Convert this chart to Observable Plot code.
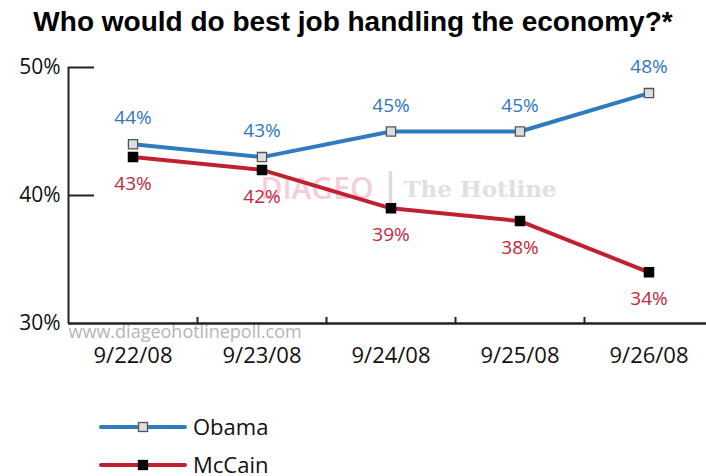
<!DOCTYPE html>
<html><head><meta charset="utf-8">
<script src="https://cdn.jsdelivr.net/npm/d3@7"></script>
<script src="https://cdn.jsdelivr.net/npm/@observablehq/plot@0.6"></script>
<style>
body{margin:0;background:#fff;width:706px;height:476px;overflow:hidden;font-family:"Open Sans",sans-serif}
#title{box-sizing:border-box;height:40px;padding-top:7px;line-height:30px;text-align:center;font-family:"Liberation Sans",Arial,sans-serif;font-weight:bold;font-size:28px;color:#000;white-space:nowrap}
#chart svg{display:block}
#legend{height:96px}
</style></head><body>
<div id="title">Who would do best job handling the economy?*</div>
<div id="chart"></div>
<div id="legend"></div>
<script>
const dates = ["9/22/08","9/23/08","9/24/08","9/25/08","9/26/08"];
const obama = [44,43,45,45,48];
const mccain = [43,42,39,38,34];
const seriesNames = ["Obama","McCain"];
const yTicks = [30,40,50];
const lineColors = {Obama:"#2e7bc0", McCain:"#c1202f"};
const labelColors = {Obama:"#2f78be", McCain:"#c4263a"};
const markFill = {Obama:"#dddde2", McCain:"#000"};
const markStroke = {Obama:"#555", McCain:"#000"};

const ob = dates.map((d,i)=>({i, date:d, series:"Obama", value:obama[i]}));
const mc = dates.map((d,i)=>({i, date:d, series:"McCain", value:mccain[i]}));
const idx = dates.map((_,i)=>i);
const mids = dates.slice(1).map((_,k)=>k+0.5);

function seriesMarks(data, name, dy){
  return [
    Plot.line(data, {x:"i", y:"value", stroke:lineColors[name], strokeWidth:4}),
    Plot.dot(data, {x:"i", y:"value", symbol:"square", r:5.2, fill:markFill[name], stroke:markStroke[name], strokeWidth:1.3}),
    Plot.text(data, {x:"i", y:"value", text:d=>d.value+"%", dy, fill:labelColors[name], fontSize:19})
  ];
}

const chart = Plot.plot({
  width:706, height:340, marginTop:27, marginBottom:57, marginLeft:68, marginRight:0,
  style:{fontFamily:"'Open Sans', sans-serif", background:"transparent", color:"#222"},
  x:{type:"linear", domain:[-0.5, dates.length-0.5], range:[68, 68+129*dates.length], axis:null, label:null},
  y:{domain:[30,50], axis:null, label:null},
  marks:[
    Plot.text(["DIAGEO"], {frameAnchor:"middle", dx:-14, dy:-6, textAnchor:"end", fontSize:30, fill:"#f4cfd9", fontWeight:"600"}),
    Plot.text(["The Hotline"], {frameAnchor:"middle", dx:16, dy:-6, textAnchor:"start", fontSize:23, fill:"#e0e0e0", fontWeight:"bold", fontFamily:"DejaVu Serif"}),
    Plot.text(["|"], {frameAnchor:"middle", dx:3, dy:-7, fontSize:40, fill:"#dcdcdc", fontFamily:"Liberation Sans"}),
    Plot.text(["www.diageohotlinepoll.com"], {frameAnchor:"bottom-left", dy:14, textAnchor:"start", fontSize:18, fill:"#b5b5b5"}),
    Plot.axisY(yTicks, {anchor:"left", label:null, tickSize:0, tickPadding:8, tickFormat:d=>d+"%", fontSize:21, fill:"#111"}),
    Plot.axisY([40,50], {anchor:"left", label:null, tickSize:-26, tickFormat:()=>"", strokeWidth:2, stroke:"#222"}),
    Plot.ruleX([-0.5], {y1:30, y2:50, strokeWidth:2, stroke:"#222"}),
    Plot.ruleY([30], {strokeWidth:2.5, stroke:"#222"}),
    Plot.axisX(idx, {anchor:"bottom", label:null, tickSize:0, tickPadding:24, tickFormat:i=>dates[i], fontSize:22, fill:"#111"}),
    Plot.axisX(mids, {anchor:"bottom", label:null, tickSize:-6, tickFormat:()=>"", strokeWidth:2, stroke:"#222"}),
    ...seriesMarks(ob, "Obama", -26),
    ...seriesMarks(mc, "McCain", 27)
  ]
});
document.getElementById("chart").appendChild(chart);

// legend
const lg = d3.select("#legend").append("svg").attr("width",706).attr("height",96);
seriesNames.forEach((name,k)=>{
  const y = 47 + k*38;
  const g = lg.append("g");
  g.append("line").attr("x1",101).attr("x2",185).attr("y1",y).attr("y2",y)
    .attr("stroke",lineColors[name]).attr("stroke-width",4).attr("stroke-linecap","round");
  g.append("rect").attr("x",143-4.5).attr("y",y-4.5).attr("width",9).attr("height",9)
    .attr("fill",markFill[name]).attr("stroke",markStroke[name]).attr("stroke-width",1.3);
  g.append("text").attr("x",193).attr("y",y).attr("dy","0.35em")
    .attr("font-family","'Open Sans', sans-serif").attr("font-size",22).attr("fill","#111").text(name);
});
</script>
</body></html>
